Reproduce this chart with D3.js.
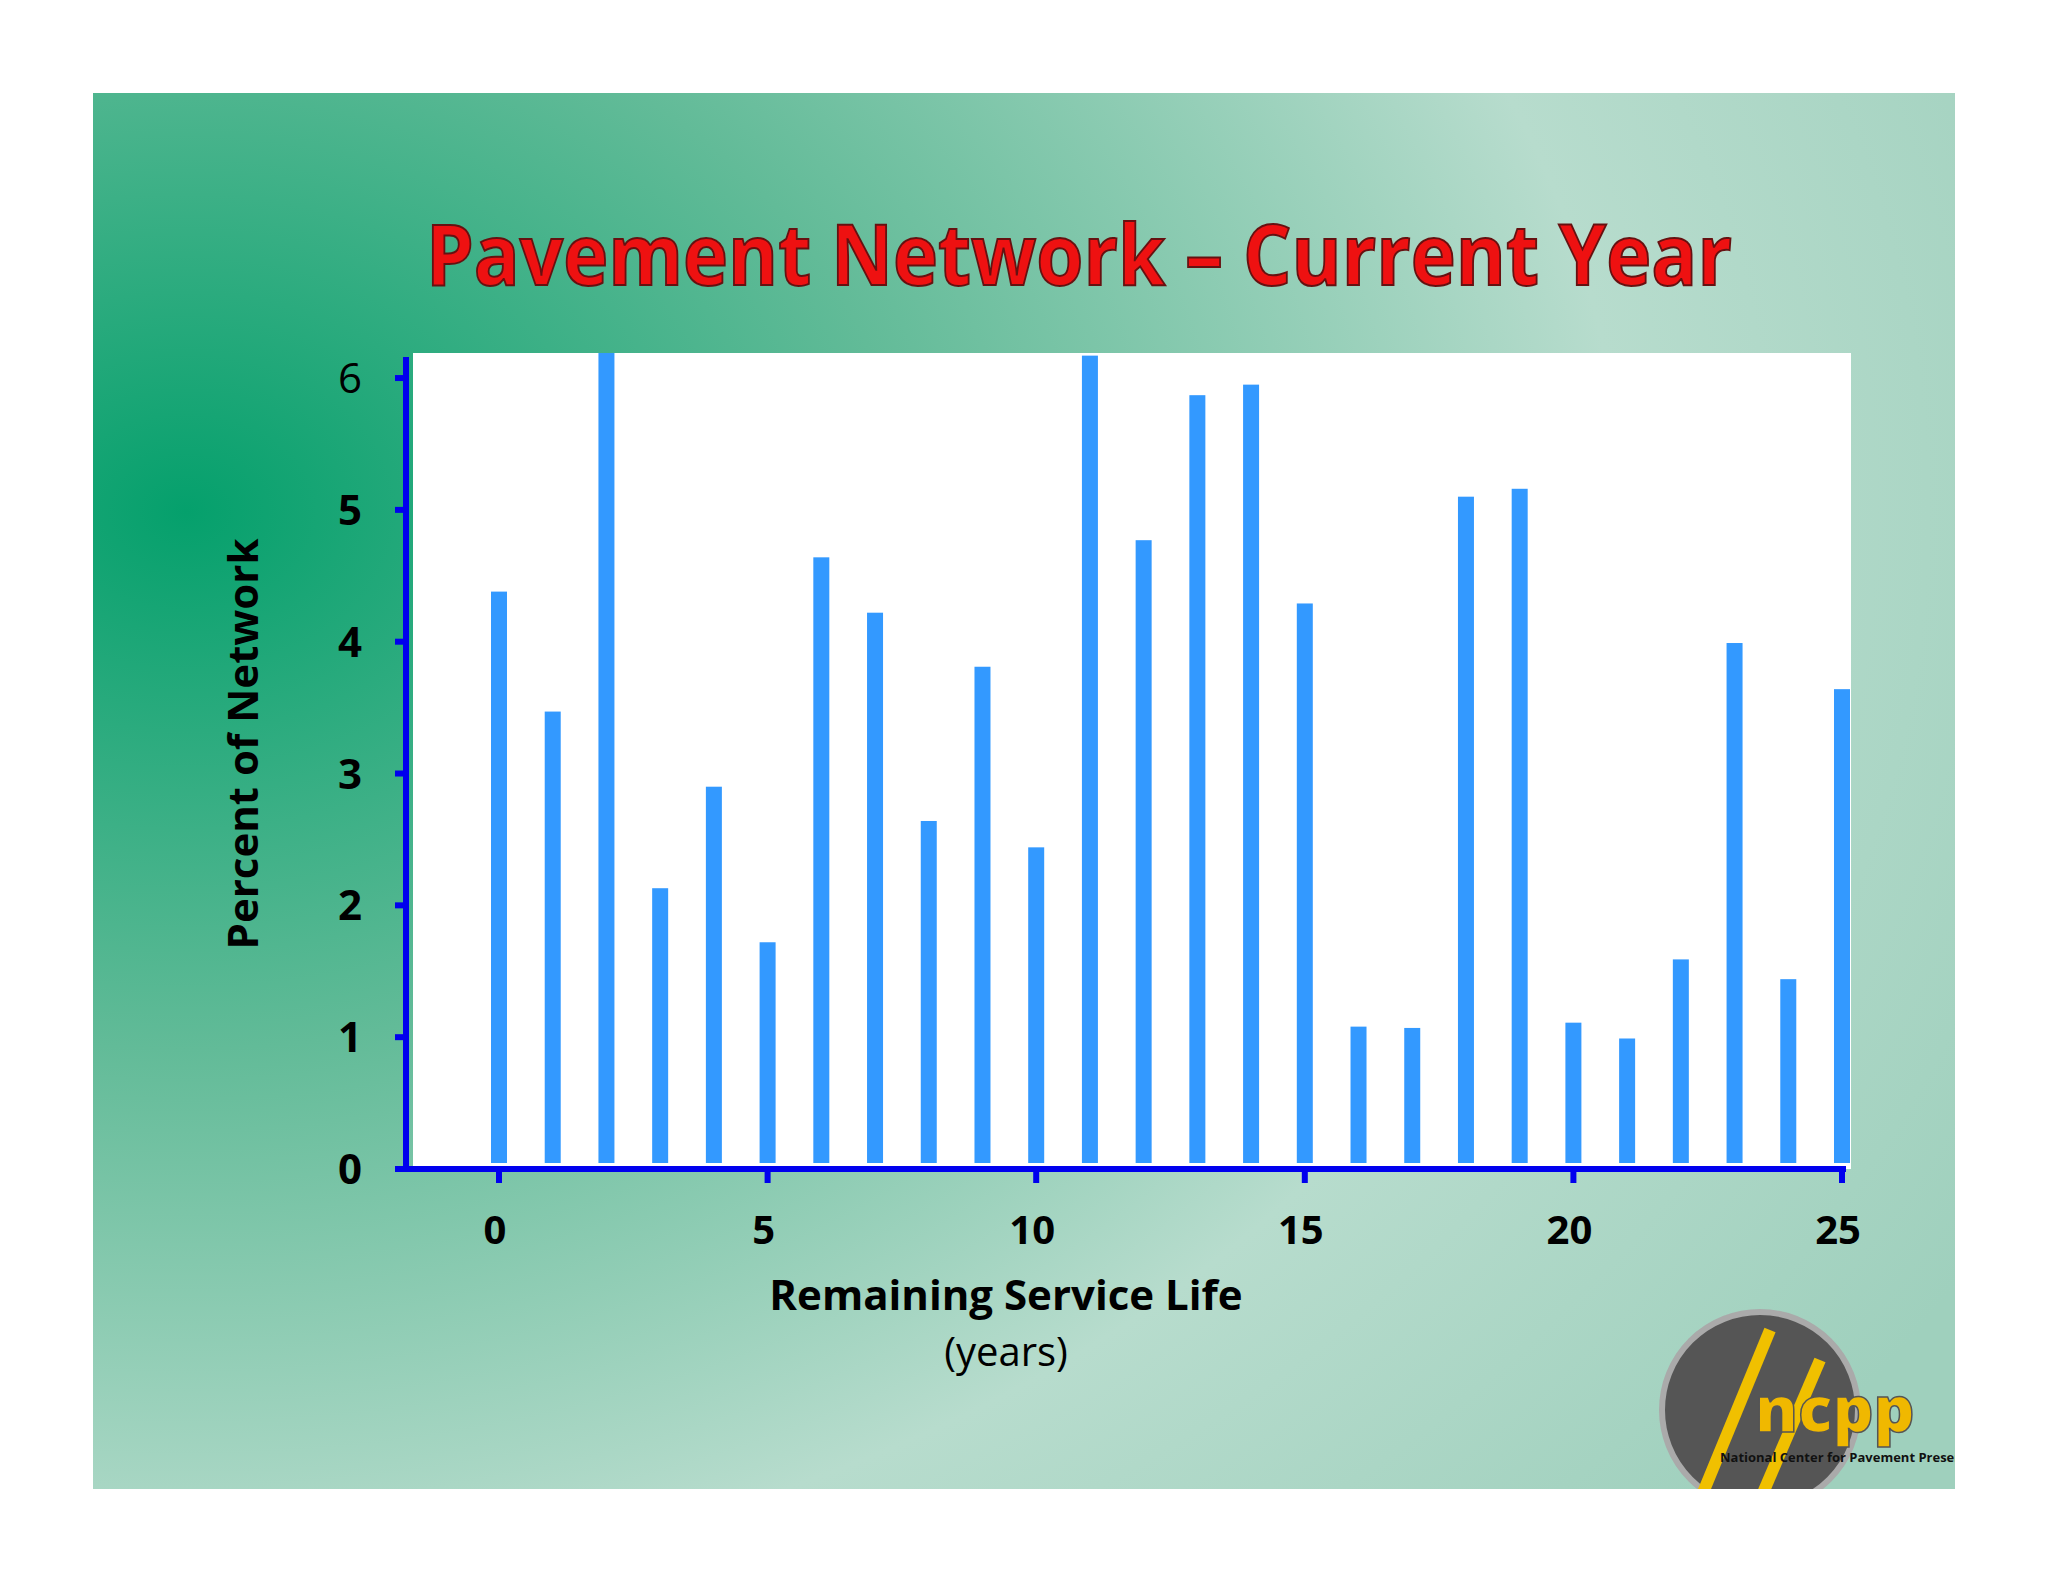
<!DOCTYPE html>
<html><head><meta charset="utf-8">
<script src="https://cdn.jsdelivr.net/npm/d3@7"></script>
<style>body{margin:0;background:#fff}</style>
</head><body>
<svg id="c" width="2048" height="1582"></svg>
<script>
// remaining service life (years) and percent of network
const years = d3.range(0, 26);
const percent = [4.38, 3.47, 6.5, 2.13, 2.9, 1.72, 4.64, 4.22, 2.64, 3.81, 2.44, 6.17, 4.77,
  5.87, 5.95, 4.29, 1.08, 1.07, 5.1, 5.16, 1.11, 0.99, 1.59, 3.99, 1.44, 3.64];
const yTicks = [0, 1, 2, 3, 4, 5, 6];
const xTicks = [0, 5, 10, 15, 20, 25];

const svg = d3.select('#c');
const defs = svg.append('defs');
const g1 = defs.append('radialGradient').attr('id', 'bg').attr('cx', '0.05').attr('cy', '0.3').attr('r', '1.1');
g1.append('stop').attr('offset', '0').attr('stop-color', '#05a06c');
g1.append('stop').attr('offset', '0.35').attr('stop-color', '#62bb98');
g1.append('stop').attr('offset', '0.7').attr('stop-color', '#b7dccd');
g1.append('stop').attr('offset', '1').attr('stop-color', '#9fd0bd');
svg.append('rect').attr('x', 93).attr('y', 93).attr('width', 1862).attr('height', 1396).attr('fill', 'url(#bg)');
defs.append('clipPath').attr('id', 'slide').append('rect')
  .attr('x', 93).attr('y', 93).attr('width', 1862).attr('height', 1396);

const x = d3.scaleLinear().domain([0, 25]).range([499, 1842]);
const y = d3.scaleLinear().domain([0, 6.19]).range([1169, 353]);

svg.append('rect').attr('x', 413).attr('y', 353).attr('width', 1438).attr('height', 816).attr('fill', '#fff');

const clip = defs.append('clipPath').attr('id', 'pc');
clip.append('rect').attr('x', 413).attr('y', 353).attr('width', 1438).attr('height', 816);

svg.append('g').attr('clip-path', 'url(#pc)').selectAll('rect').data(years).join('rect')
  .attr('x', d => x(d) - 8).attr('width', 16)
  .attr('y', (d, i) => y(percent[i]))
  .attr('height', (d, i) => y(0) - 6 - y(percent[i]))
  .attr('fill', '#3399ff');

const blue = '#0000ee';
// axes
svg.append('line').attr('x1', 406).attr('x2', 406).attr('y1', 357).attr('y2', 1172)
  .attr('stroke', blue).attr('stroke-width', 6);
svg.append('line').attr('x1', 398).attr('x2', 1846).attr('y1', 1169).attr('y2', 1169)
  .attr('stroke', blue).attr('stroke-width', 6);
svg.append('g').selectAll('line').data(yTicks).join('line')
  .attr('x1', 395).attr('x2', 406).attr('y1', d => y(d)).attr('y2', d => y(d))
  .attr('stroke', blue).attr('stroke-width', 6);
svg.append('g').selectAll('line').data(xTicks).join('line')
  .attr('x1', d => x(d)).attr('x2', d => x(d)).attr('y1', 1169).attr('y2', 1183)
  .attr('stroke', blue).attr('stroke-width', 6);

const font = '"Open Sans", "DejaVu Sans", sans-serif';
svg.append('g').selectAll('text').data(yTicks).join('text')
  .attr('x', 362).attr('y', d => y(d) + 15).attr('text-anchor', 'end')
  .attr('font-family', font).attr('font-size', 42).attr('font-weight', d => d === 6 ? 400 : 700)
  .text(d => d);
svg.append('g').selectAll('text').data(xTicks).join('text')
  .attr('x', d => x(d) - 4).attr('y', 1244).attr('text-anchor', 'middle')
  .attr('font-family', font).attr('font-size', 40).attr('font-weight', 700)
  .text(d => d);

svg.append('text').attr('transform', 'translate(258,744) rotate(-90)').attr('text-anchor', 'middle')
  .attr('font-family', font).attr('font-size', 42).attr('font-weight', 700).text('Percent of Network');
svg.append('text').attr('x', 1006).attr('y', 1310).attr('text-anchor', 'middle')
  .attr('font-family', font).attr('font-size', 42).attr('font-weight', 700).text('Remaining Service Life');
svg.append('text').attr('x', 1006).attr('y', 1366).attr('text-anchor', 'middle')
  .attr('font-family', font).attr('font-size', 40).text('(years)');

// title
svg.append('text').attr('x', 1079).attr('y', 285).attr('text-anchor', 'middle')
  .attr('font-family', font).attr('font-size', 84).attr('font-weight', 700)
  .attr('textLength', 1306).attr('lengthAdjust', 'spacingAndGlyphs')
  .attr('fill', '#ee1111').attr('stroke', '#661111').attr('stroke-width', 2)
  .text('Pavement Network – Current Year');

// logo
const lg = svg.append('g').attr('clip-path', 'url(#slide)');
lg.append('circle').attr('cx', 1760).attr('cy', 1410).attr('r', 98).attr('fill', '#555').attr('stroke', '#aaa').attr('stroke-width', 6);
lg.append('line').attr('x1', 1700).attr('y1', 1500).attr('x2', 1770).attr('y2', 1330).attr('stroke', '#f0c000').attr('stroke-width', 12);
lg.append('line').attr('x1', 1760).attr('y1', 1500).attr('x2', 1820).attr('y2', 1360).attr('stroke', '#f0c000').attr('stroke-width', 12);
lg.append('text').attr('x', 1755).attr('y', 1432).attr('font-family', font).attr('font-size', 64).attr('font-weight', 800)
  .attr('fill', '#f0b800').attr('stroke', '#555').attr('stroke-width', 1.5).text('ncpp');
lg.append('text').attr('x', 1720).attr('y', 1462).attr('font-family', font).attr('font-size', 13).attr('font-weight', 700)
  .attr('fill', '#111').text('National Center for Pavement Preservation');
</script>
</body></html>
